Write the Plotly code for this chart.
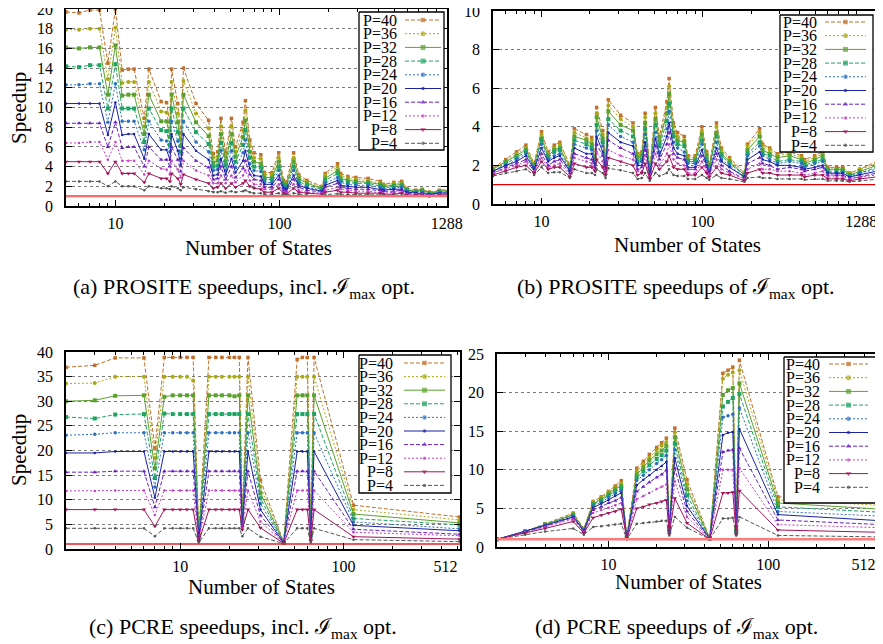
import math
import plotly.graph_objects as go

# ---------------- data ----------------
SERIES = ["P=40", "P=36", "P=32", "P=28", "P=24", "P=20", "P=16", "P=12", "P=8", "P=4"]
BASELINE = 1.0

X_PROSITE = [5, 6, 7, 8, 9, 10, 11, 12, 13, 15, 16, 19, 20.5, 21.5, 22, 24, 25, 26, 31, 37,
             39.5, 42, 44, 47, 51, 54, 60, 62, 66, 70, 77, 81, 90, 99, 106, 110, 122, 131, 147, 182,
             190, 226, 236, 261, 292, 347, 412, 430, 497, 556, 598, 679, 741, 819, 945, 1205, 1288]

# (a) PROSITE speedups incl. Imax opt.
A_P40 = [19.7, 19.6, 19.9, 19.9, 14.5, 20.0, 13.8, 13.9, 13.9, 8.9,
         13.9, 10.6, 10.5, 8.5, 13.9, 10.4, 7.4, 14.0, 10.4, 8.7,
         5.3, 5.5, 8.9, 5.4, 8.9, 6.0, 8.5, 10.7, 6.7, 5.4,
         5.2, 3.4, 3.4, 5.4, 2.6, 2.4, 5.4, 3.2, 2.6, 2.0,
         3.3, 4.3, 3.3, 3.0, 2.9, 2.8, 2.5, 2.2, 2.4, 2.5,
         1.8, 1.6, 1.7, 1.4, 1.6, 1.7, 1.8]
A_P36 = [17.9, 17.9, 18.0, 18.0, 12.9, 18.1, 12.5, 12.6, 12.6, 8.1,
         12.6, 9.6, 9.5, 7.7, 12.6, 9.4, 6.8, 12.7, 9.4, 7.9,
         4.9, 5.0, 8.1, 5.0, 8.1, 5.5, 7.7, 9.7, 6.1, 4.9,
         4.8, 3.2, 3.2, 4.9, 2.4, 2.3, 4.9, 3.0, 2.4, 1.9,
         3.1, 4.0, 3.1, 2.8, 2.7, 2.6, 2.3, 2.1, 2.3, 2.3,
         1.7, 1.5, 1.6, 1.4, 1.5, 1.6, 1.7]
A_P32 = [16.1, 16.0, 16.1, 16.1, 11.3, 16.3, 11.2, 11.3, 11.3, 7.3,
         11.3, 8.6, 8.6, 7.0, 11.3, 8.5, 6.1, 11.3, 8.5, 7.1,
         4.4, 4.6, 7.3, 4.5, 7.3, 5.0, 7.0, 8.7, 5.5, 4.5,
         4.3, 2.9, 2.9, 4.5, 2.3, 2.1, 4.5, 2.8, 2.3, 1.8,
         2.8, 3.6, 2.8, 2.6, 2.5, 2.4, 2.2, 2.0, 2.1, 2.2,
         1.6, 1.5, 1.6, 1.3, 1.5, 1.6, 1.7]
A_P28 = [14.2, 14.1, 14.3, 14.3, 9.9, 14.4, 9.9, 9.9, 9.9, 6.5,
         9.9, 7.7, 7.6, 6.2, 9.9, 7.5, 5.5, 9.9, 7.5, 6.3,
         4.0, 4.1, 6.4, 4.1, 6.4, 4.5, 6.2, 7.7, 4.9, 4.0,
         3.9, 2.7, 2.7, 4.0, 2.1, 2.0, 4.0, 2.5, 2.1, 1.7,
         2.6, 3.3, 2.6, 2.4, 2.3, 2.3, 2.0, 1.8, 2.0, 2.0,
         1.6, 1.4, 1.5, 1.3, 1.4, 1.5, 1.6]
A_P24 = [12.3, 12.3, 12.4, 12.4, 8.5, 12.4, 8.6, 8.6, 8.6, 5.7,
         8.6, 6.7, 6.6, 5.5, 8.6, 6.6, 4.8, 8.6, 6.5, 5.5,
         3.6, 3.7, 5.6, 3.6, 5.6, 3.9, 5.4, 6.7, 4.3, 3.6,
         3.5, 2.4, 2.4, 3.6, 1.9, 1.8, 3.6, 2.3, 1.9, 1.6,
         2.3, 2.9, 2.4, 2.2, 2.1, 2.1, 1.9, 1.7, 1.8, 1.9,
         1.5, 1.4, 1.4, 1.2, 1.4, 1.4, 1.5]
A_P20 = [10.4, 10.4, 10.4, 10.4, 7.2, 10.5, 7.2, 7.3, 7.3, 4.8,
         7.3, 5.7, 5.7, 4.7, 7.3, 5.6, 4.2, 7.3, 5.6, 4.7,
         3.1, 3.2, 4.8, 3.2, 4.8, 3.4, 4.6, 5.6, 3.8, 3.1,
         3.0, 2.2, 2.2, 3.1, 1.8, 1.7, 3.1, 2.1, 1.8, 1.5,
         2.1, 2.6, 2.1, 2.0, 1.9, 1.9, 1.7, 1.6, 1.7, 1.7,
         1.4, 1.3, 1.3, 1.2, 1.3, 1.3, 1.4]
A_P16 = [8.4, 8.4, 8.4, 8.4, 6.0, 8.5, 5.9, 6.0, 6.0, 4.0,
         6.0, 4.7, 4.7, 4.0, 6.0, 4.7, 3.5, 5.9, 4.6, 3.9,
         2.7, 2.8, 4.0, 2.7, 4.0, 2.9, 3.8, 4.6, 3.2, 2.7,
         2.6, 1.9, 1.9, 2.7, 1.6, 1.5, 2.7, 1.9, 1.6, 1.4,
         1.9, 2.3, 1.9, 1.8, 1.7, 1.7, 1.6, 1.5, 1.5, 1.6,
         1.3, 1.2, 1.3, 1.1, 1.2, 1.3, 1.3]
A_P12 = [6.4, 6.4, 6.5, 6.5, 4.7, 6.5, 4.6, 4.6, 4.6, 3.2,
         4.6, 3.8, 3.7, 3.2, 4.6, 3.7, 2.9, 4.6, 3.6, 3.1,
         2.3, 2.3, 3.1, 2.3, 3.1, 2.4, 3.1, 3.6, 2.6, 2.2,
         2.2, 1.7, 1.7, 2.2, 1.4, 1.4, 2.2, 1.6, 1.4, 1.3,
         1.6, 1.9, 1.7, 1.6, 1.5, 1.5, 1.4, 1.3, 1.4, 1.4,
         1.2, 1.2, 1.2, 1.1, 1.2, 1.2, 1.3]
A_P8 = [4.5, 4.5, 4.5, 4.5, 3.3, 4.5, 3.3, 3.3, 3.3, 2.4,
        3.3, 2.8, 2.8, 2.5, 3.3, 2.8, 2.2, 3.2, 2.7, 2.3,
        1.8, 1.9, 2.3, 1.8, 2.3, 1.9, 2.3, 2.6, 2.0, 1.8,
        1.7, 1.4, 1.4, 1.8, 1.3, 1.2, 1.8, 1.4, 1.3, 1.2,
        1.4, 1.6, 1.4, 1.4, 1.3, 1.3, 1.3, 1.2, 1.2, 1.3,
        1.1, 1.1, 1.1, 1.0, 1.1, 1.1, 1.2]
A_P4 = [2.5, 2.5, 2.5, 2.5, 2.0, 2.5, 2.0, 2.0, 2.0, 1.6,
        2.0, 1.8, 1.8, 1.7, 2.0, 1.8, 1.6, 1.9, 1.7, 1.5,
        1.4, 1.4, 1.5, 1.35, 1.5, 1.4, 1.5, 1.6, 1.4, 1.3,
        1.3, 1.2, 1.2, 1.3, 1.1, 1.1, 1.3, 1.2, 1.1, 1.05,
        1.15, 1.25, 1.2, 1.15, 1.15, 1.15, 1.1, 1.1, 1.1, 1.1,
        1.05, 1.05, 1.05, 1.0, 1.05, 1.05, 1.1]

# (b) PROSITE speedups of Imax opt.
B_P40 = [1.85, 2.3, 2.7, 3.05, 2.1, 3.75, 2.7, 3.05, 3.2, 2.0,
         3.9, 3.6, 3.45, 2.5, 5.0, 3.8, 2.2, 5.4, 4.6, 4.2,
         2.6, 2.7, 4.7, 1.8, 5.0, 3.5, 5.3, 6.5, 4.2, 3.7,
         3.5, 2.5, 2.5, 4.0, 2.7, 2.0, 4.2, 2.9, 2.4, 1.6,
         3.1, 3.9, 3.1, 2.9, 2.6, 2.7, 2.5, 2.3, 2.5, 2.7,
         1.9, 1.9, 1.9, 1.6, 1.8, 2.2, 2.4]
B_P36 = [1.8, 2.2, 2.6, 2.9, 2.1, 3.6, 2.6, 2.9, 3.1, 2.0,
         3.7, 3.4, 3.3, 2.4, 4.7, 3.6, 2.1, 5.1, 4.4, 4.0,
         2.5, 2.6, 4.5, 1.8, 4.7, 3.3, 5.0, 6.1, 4.0, 3.5,
         3.3, 2.4, 2.4, 3.8, 2.6, 1.9, 4.0, 2.8, 2.3, 1.6,
         3.0, 3.7, 3.0, 2.8, 2.5, 2.6, 2.4, 2.2, 2.4, 2.6,
         1.8, 1.8, 1.8, 1.6, 1.8, 2.1, 2.3]
B_P32 = [1.8, 2.2, 2.5, 2.8, 2.0, 3.4, 2.5, 2.8, 2.9, 1.9,
         3.5, 3.3, 3.1, 2.3, 4.5, 3.4, 2.1, 4.8, 4.1, 3.8,
         2.4, 2.5, 4.2, 1.7, 4.4, 3.2, 4.7, 5.7, 3.7, 3.3,
         3.2, 2.3, 2.3, 3.6, 2.5, 1.9, 3.7, 2.6, 2.2, 1.5,
         2.8, 3.5, 2.8, 2.6, 2.4, 2.5, 2.3, 2.1, 2.3, 2.5,
         1.8, 1.8, 1.8, 1.5, 1.7, 2.0, 2.2]
B_P28 = [1.7, 2.1, 2.4, 2.7, 1.9, 3.3, 2.4, 2.7, 2.8, 1.8,
         3.3, 3.1, 2.9, 2.2, 4.1, 3.2, 2.0, 4.4, 3.8, 3.5,
         2.2, 2.3, 3.9, 1.6, 4.1, 3.0, 4.3, 5.2, 3.5, 3.1,
         3.0, 2.2, 2.2, 3.3, 2.3, 1.8, 3.5, 2.5, 2.1, 1.5,
         2.6, 3.2, 2.6, 2.5, 2.2, 2.3, 2.2, 2.0, 2.2, 2.3,
         1.7, 1.7, 1.7, 1.5, 1.6, 1.9, 2.1]
B_P24 = [1.7, 2.0, 2.3, 2.6, 1.9, 3.1, 2.3, 2.5, 2.6, 1.8,
         3.1, 2.9, 2.8, 2.1, 3.8, 3.0, 1.9, 4.1, 3.5, 3.2,
         2.1, 2.2, 3.6, 1.6, 3.7, 2.7, 3.9, 4.8, 3.2, 2.9,
         2.7, 2.1, 2.1, 3.1, 2.2, 1.7, 3.2, 2.3, 2.0, 1.4,
         2.5, 3.0, 2.5, 2.3, 2.1, 2.2, 2.1, 1.9, 2.1, 2.2,
         1.6, 1.6, 1.6, 1.4, 1.6, 1.8, 2.0]
B_P20 = [1.7, 2.0, 2.2, 2.5, 1.8, 2.9, 2.2, 2.4, 2.5, 1.7,
         2.9, 2.6, 2.6, 2.0, 3.5, 2.7, 1.8, 3.7, 3.2, 3.0,
         2.0, 2.0, 3.2, 1.5, 3.4, 2.5, 3.5, 4.2, 2.9, 2.6,
         2.5, 1.9, 1.9, 2.8, 2.0, 1.6, 2.9, 2.2, 1.9, 1.4,
         2.3, 2.7, 2.3, 2.2, 2.0, 2.0, 1.9, 1.8, 1.9, 2.0,
         1.6, 1.6, 1.6, 1.4, 1.5, 1.7, 1.9]
B_P16 = [1.6, 1.9, 2.1, 2.3, 1.7, 2.6, 2.0, 2.2, 2.3, 1.6,
         2.6, 2.4, 2.3, 1.9, 3.1, 2.5, 1.7, 3.3, 2.9, 2.6,
         1.8, 1.9, 2.8, 1.4, 3.0, 2.3, 3.1, 3.7, 2.6, 2.4,
         2.3, 1.8, 1.8, 2.5, 1.9, 1.6, 2.6, 2.0, 1.7, 1.3,
         2.1, 2.4, 2.1, 2.0, 1.8, 1.9, 1.8, 1.7, 1.8, 1.9,
         1.5, 1.5, 1.5, 1.3, 1.4, 1.6, 1.7]
B_P12 = [1.6, 1.8, 2.0, 2.2, 1.7, 2.4, 1.9, 2.0, 2.1, 1.5,
         2.4, 2.2, 2.1, 1.8, 2.7, 2.2, 1.6, 2.8, 2.5, 2.3,
         1.7, 1.7, 2.5, 1.4, 2.6, 2.0, 2.6, 3.1, 2.3, 2.1,
         2.0, 1.6, 1.6, 2.2, 1.7, 1.5, 2.3, 1.8, 1.6, 1.3,
         1.8, 2.1, 1.8, 1.8, 1.7, 1.7, 1.6, 1.5, 1.6, 1.7,
         1.4, 1.4, 1.4, 1.3, 1.4, 1.5, 1.6]
B_P8 = [1.5, 1.7, 1.9, 2.0, 1.6, 2.2, 1.8, 1.9, 1.9, 1.4,
        2.1, 1.9, 1.9, 1.7, 2.3, 1.9, 1.5, 2.4, 2.2, 2.0,
        1.5, 1.6, 2.1, 1.3, 2.1, 1.8, 2.2, 2.5, 1.9, 1.8,
        1.8, 1.5, 1.5, 1.9, 1.6, 1.4, 1.9, 1.6, 1.5, 1.2,
        1.6, 1.8, 1.6, 1.6, 1.5, 1.5, 1.5, 1.4, 1.5, 1.5,
        1.3, 1.3, 1.3, 1.2, 1.3, 1.4, 1.5]
B_P4 = [1.45, 1.6, 1.7, 1.8, 1.5, 1.9, 1.6, 1.65, 1.65, 1.35,
        1.8, 1.6, 1.6, 1.5, 1.8, 1.6, 1.35, 1.85, 1.75, 1.6,
        1.3, 1.35, 1.6, 1.2, 1.6, 1.45, 1.6, 1.8, 1.5, 1.45,
        1.45, 1.3, 1.3, 1.5, 1.35, 1.25, 1.5, 1.35, 1.3, 1.15,
        1.35, 1.4, 1.35, 1.35, 1.3, 1.3, 1.3, 1.25, 1.3, 1.3,
        1.2, 1.2, 1.2, 1.15, 1.2, 1.25, 1.3]

X_PCRE = [2, 3, 4, 6, 7, 8, 9, 10, 11, 12, 13, 15, 16.5, 18, 20, 21.5, 23, 24, 26, 31,
          43, 52, 56, 60, 63, 66, 115, 512]

# (c) PCRE speedups incl. Imax opt.
C_P40 = [36.9, 37.3, 38.8, 38.8, 20.5, 38.9, 38.9, 38.9, 38.9, 38.9, 3.1, 38.9, 38.9, 38.9,
         38.9, 38.9, 38.9, 6.5, 38.9, 14.0, 1.4, 38.5, 38.9, 38.9, 3.5, 38.9, 8.9, 6.5]
C_P36 = [33.6, 33.7, 35.0, 35.0, 18.5, 35.0, 35.0, 35.0, 35.0, 34.2, 2.9, 35.0, 35.0, 35.0,
         35.0, 35.0, 35.0, 6.2, 35.0, 12.7, 1.4, 35.0, 35.0, 35.0, 3.3, 35.0, 8.0, 5.9]
C_P32 = [30.0, 30.2, 31.1, 31.2, 16.4, 30.9, 31.2, 31.2, 31.2, 31.2, 2.7, 31.2, 31.2, 31.2,
         31.2, 31.0, 31.2, 5.9, 31.2, 11.4, 1.35, 31.2, 31.2, 31.2, 3.1, 31.2, 7.1, 5.3]
C_P28 = [26.8, 26.5, 27.3, 27.4, 14.4, 27.5, 27.4, 27.4, 27.4, 27.4, 2.5, 27.4, 27.4, 27.4,
         27.4, 27.4, 27.4, 5.6, 27.4, 10.3, 1.3, 27.4, 27.4, 27.4, 2.9, 27.4, 6.2, 4.9]
C_P24 = [23.1, 23.3, 23.6, 23.6, 12.6, 23.6, 23.6, 23.6, 23.6, 23.6, 2.3, 23.6, 23.6, 23.6,
         23.6, 23.6, 23.6, 5.3, 23.6, 9.2, 1.3, 23.6, 23.6, 23.6, 2.6, 23.6, 5.5, 4.1]
C_P20 = [19.5, 19.5, 19.8, 19.8, 10.4, 19.8, 19.8, 19.8, 19.8, 19.8, 2.1, 19.8, 19.8, 19.8,
         19.8, 19.8, 19.8, 5.0, 19.8, 8.0, 1.25, 19.8, 19.8, 19.8, 2.4, 19.8, 4.8, 3.7]
C_P16 = [15.6, 15.6, 15.8, 15.8, 8.5, 15.8, 15.8, 15.8, 15.8, 15.8, 1.9, 15.8, 15.8, 15.8,
         15.8, 15.8, 15.8, 4.7, 15.8, 6.8, 1.2, 15.8, 15.8, 15.8, 2.1, 15.8, 4.0, 3.0]
C_P12 = [11.8, 11.8, 11.9, 11.9, 6.9, 11.9, 11.9, 11.9, 11.9, 11.9, 1.7, 11.9, 11.9, 11.9,
         11.9, 11.9, 11.9, 4.3, 11.9, 5.6, 1.2, 11.9, 11.9, 11.9, 1.9, 11.9, 3.4, 2.7]
C_P8 = [8.0, 8.0, 8.0, 8.0, 4.6, 8.0, 8.0, 8.0, 8.0, 8.0, 1.5, 8.0, 8.0, 8.0,
        8.0, 8.0, 8.0, 3.9, 8.0, 4.3, 1.15, 8.0, 8.0, 8.0, 1.6, 8.0, 2.5, 2.0]
C_P4 = [4.2, 4.2, 4.2, 4.2, 2.6, 4.2, 4.2, 4.2, 4.2, 4.2, 1.3, 4.2, 4.2, 4.2,
        4.2, 4.2, 4.2, 2.6, 4.2, 2.5, 1.1, 4.2, 4.2, 4.2, 1.3, 4.2, 1.9, 1.5]

# (d) PCRE speedups of Imax opt.
D_P40 = [1.0, 2.0, 3.0, 4.4, 2.4, 5.9, 6.5, 7.2, 7.9, 8.6, 1.3, 10.2, 11.1, 12.0,
         12.9, 13.5, 14.1, 2.5, 15.4, 8.7, 1.1, 22.5, 22.9, 23.3, 2.5, 24.2, 6.5, 5.9]
D_P36 = [1.0, 2.0, 2.9, 4.3, 2.3, 5.8, 6.4, 7.1, 7.7, 8.2, 1.3, 9.8, 10.7, 11.6,
         12.5, 13.1, 13.6, 2.4, 14.8, 8.1, 1.1, 21.8, 22.3, 22.6, 2.3, 22.9, 6.1, 5.4]
D_P32 = [1.0, 2.0, 2.9, 4.2, 2.3, 5.6, 6.2, 6.9, 7.5, 7.9, 1.25, 9.4, 10.3, 11.2,
         12.0, 12.5, 13.1, 2.3, 14.2, 7.5, 1.1, 19.7, 20.3, 20.6, 2.2, 21.2, 5.7, 4.9]
D_P28 = [1.0, 2.0, 2.9, 4.1, 2.2, 5.5, 6.0, 6.7, 7.2, 7.6, 1.2, 9.0, 9.8, 10.6,
         11.4, 11.9, 12.5, 2.2, 13.4, 6.7, 1.05, 18.2, 18.8, 19.3, 2.1, 19.8, 5.2, 4.5]
D_P24 = [1.0, 2.0, 2.8, 4.0, 2.2, 5.3, 5.8, 6.4, 6.9, 7.3, 1.2, 8.6, 9.3, 10.0,
         10.8, 11.3, 11.9, 2.1, 12.6, 6.0, 1.05, 16.8, 17.0, 17.2, 2.0, 18.0, 4.6, 4.0]
D_P20 = [1.0, 2.0, 2.8, 3.9, 2.1, 5.1, 5.6, 6.1, 6.6, 7.0, 1.15, 8.0, 8.7, 9.3,
         10.0, 10.5, 11.0, 2.0, 11.5, 5.3, 1.05, 14.5, 14.8, 14.9, 1.9, 15.3, 4.2, 3.4]
D_P16 = [1.0, 1.9, 2.7, 3.8, 2.0, 4.8, 5.2, 5.7, 6.0, 6.4, 1.1, 7.2, 7.8, 8.4,
         9.0, 9.4, 9.9, 1.9, 10.2, 4.6, 1.0, 12.3, 12.5, 12.6, 1.8, 12.8, 3.5, 2.9]
D_P12 = [1.0, 1.9, 2.6, 3.6, 1.9, 4.4, 4.8, 5.1, 5.4, 5.7, 1.1, 6.2, 6.6, 7.0,
         7.5, 7.8, 8.1, 1.8, 8.5, 3.9, 1.0, 10.0, 10.0, 10.0, 1.7, 10.2, 2.9, 2.5]
D_P8 = [1.0, 1.8, 2.4, 3.3, 1.8, 3.8, 4.1, 4.4, 4.6, 4.9, 1.05, 5.0, 5.2, 5.5,
        5.7, 5.9, 6.1, 1.7, 6.3, 3.1, 1.0, 7.0, 7.0, 7.1, 1.6, 7.3, 2.2, 1.9]
D_P4 = [1.0, 1.6, 2.0, 2.4, 1.6, 2.6, 2.7, 2.8, 2.9, 3.0, 1.0, 3.0, 3.1, 3.2,
        3.3, 3.4, 3.4, 1.5, 3.9, 2.5, 1.0, 3.7, 3.7, 3.8, 1.5, 3.9, 1.5, 1.3]

CAPTIONS = ["(a) PROSITE speedups, incl. \u2110<sub>max</sub> opt.",
            "(b) PROSITE speedups of \u2110<sub>max</sub> opt.",
            "(c) PCRE speedups, incl. \u2110<sub>max</sub> opt.",
            "(d) PCRE speedups of \u2110<sub>max</sub> opt."]
X_TITLE = "Number of States"
Y_TITLE = "Speedup"

# ---------------- styles ----------------
PAGE_W, PAGE_H = 883, 644
OFF = 8                      # page body margin
W, H = PAGE_W - OFF, PAGE_H - OFF
FONT = "Liberation Serif"
COLORS = ["#c0702a", "#aaa814", "#5ca12f", "#1fa463", "#2c70c0",
          "#1a22a8", "#6a22bd", "#c23ec6", "#a3135a", "#555555"]
DASHES = ["4px,2px", "2px,2px", "solid", "4px,2px", "2px,2px",
          "solid", "4px,2px", "2px,2px", "solid", "4px,2px"]
SYMBOLS = ["square", "circle", "square", "square", "circle",
           "circle", "triangle-up", "circle", "triangle-down", "circle"]
MSIZES = [3.5, 4, 4, 4, 3.5, 2.5, 4, 2.5, 4, 2.5]


def px_x(p):
    return (p - OFF) / W


def px_y(p):
    return 1 - (p - OFF) / H


panels = [
    dict(x=X_PROSITE, ys=[A_P40, A_P36, A_P32, A_P28, A_P24, A_P20, A_P16, A_P12, A_P8, A_P4],
         dom_x=(66, 447), dom_y=(9, 206), xr=(5, 1050), yr=(0, 20), dy=2,
         ticks=[(10, "10"), (100, "100"), (1045, "1288")],
         base_color="#ff6b6b", base_w=2.2,
         legend=dict(box=(359, 444, 12, 150), tr=399, s=(405, 441), y0=20, st=13.7)),
    dict(x=X_PROSITE, ys=[B_P40, B_P36, B_P32, B_P28, B_P24, B_P20, B_P16, B_P12, B_P8, B_P4],
         dom_x=(493, 882), dom_y=(11, 204), xr=(5, 1300), yr=(0, 10), dy=2,
         ticks=[(10, "10"), (100, "100"), (1288, "1288" + "\u00a0" * 10)],
         base_color="#e00000", base_w=1.2,
         legend=dict(box=(780, 873, 15, 152), tr=819, s=(825, 866), y0=22, st=13.7)),
    dict(x=X_PCRE, ys=[C_P40, C_P36, C_P32, C_P28, C_P24, C_P20, C_P16, C_P12, C_P8, C_P4],
         dom_x=(66, 460), dom_y=(352, 549), xr=(2, 516), yr=(0, 40), dy=5,
         ticks=[(10, "10"), (100, "100"), (512, "512" + "\u00a0" * 7)],
         base_color="#ee1c1c", base_w=1.5,
         legend=dict(box=(359, 451, 355, 493), tr=395, s=(404, 445), y0=363, st=13.6)),
    dict(x=X_PCRE, ys=[D_P40, D_P36, D_P32, D_P28, D_P24, D_P20, D_P16, D_P12, D_P8, D_P4],
         dom_x=(497, 882), dom_y=(354, 547), xr=(2, 516), yr=(0, 25), dy=5,
         ticks=[(10, "10"), (100, "100"), (512, "512" + "\u00a0" * 9)],
         base_color="#ff7a7a", base_w=2.5,
         legend=dict(box=(784, 881, 357, 503), tr=822, s=(829, 868), y0=364, st=13.7)),
]

fig = go.Figure()
layout = dict(template="none", width=W, height=H, autosize=False,
              margin=dict(l=0, r=0, t=0, b=0, pad=0, autoexpand=False),
              paper_bgcolor="white", plot_bgcolor="rgba(0,0,0,0)",
              showlegend=False, font=dict(family=FONT, size=16, color="black"))

annotations = []
for i, pn in enumerate(panels):
    k = i + 1
    xa = "x" if k == 1 else f"x{k}"
    ya = "y" if k == 1 else f"y{k}"
    for j, name in enumerate(SERIES):
        fig.add_trace(go.Scatter(
            x=pn["x"], y=pn["ys"][j], name=name, xaxis=xa, yaxis=ya,
            mode="lines+markers",
            line=dict(color=COLORS[j], width=1, dash=DASHES[j]),
            marker=dict(symbol=SYMBOLS[j], size=MSIZES[j], color=COLORS[j],
                        line=dict(width=0))))
    fig.add_trace(go.Scatter(x=[pn["xr"][0], pn["xr"][1]], y=[BASELINE, BASELINE],
                             xaxis=xa, yaxis=ya, mode="lines",
                             line=dict(color=pn["base_color"], width=pn["base_w"])))
    lo, hi = pn["xr"]
    minor_vals = [m * 10 ** e for e in range(0, 4) for m in range(2, 10)
                  if lo <= m * 10 ** e <= hi]
    xkey = "xaxis" if k == 1 else f"xaxis{k}"
    ykey = "yaxis" if k == 1 else f"yaxis{k}"
    layout[xkey] = dict(
        type="log", domain=[px_x(pn["dom_x"][0]), px_x(pn["dom_x"][1])],
        range=[math.log10(lo), math.log10(hi)], anchor=ya, automargin=False,
        tickmode="array", tickvals=[t[0] for t in pn["ticks"]],
        ticktext=[t[1] for t in pn["ticks"]], ticklabeloverflow="allow",
        ticks="inside", ticklen=6, tickwidth=1, tickcolor="black",
        minor=dict(tickmode="array", tickvals=minor_vals, ticks="inside",
                   ticklen=3, tickcolor="black", tickwidth=1, showgrid=False),
        showline=True, linecolor="black", linewidth=1.5, mirror="allticks",
        showgrid=False, zeroline=False,
        tickfont=dict(family=FONT, size=16, color="black"), ticklabelstandoff=2)
    layout[ykey] = dict(
        domain=[px_y(pn["dom_y"][1]), px_y(pn["dom_y"][0])],
        range=list(pn["yr"]), anchor=xa, automargin=False,
        tickmode="linear", tick0=0, dtick=pn["dy"], ticklabeloverflow="allow",
        ticks="inside", ticklen=6, tickwidth=1, tickcolor="black",
        showline=True, linecolor="black", linewidth=1.5, mirror="allticks",
        showgrid=True, gridcolor="#7a7a7a", griddash="dot", gridwidth=1,
        zeroline=False,
        tickfont=dict(family=FONT, size=16, color="black"), ticklabelstandoff=8)

# overlay axes in reference-pixel units for the keys
layout["xaxis5"] = dict(domain=[0, 1], range=[OFF, PAGE_W], anchor="y5", visible=False,
                        showgrid=False, zeroline=False, automargin=False)
layout["yaxis5"] = dict(domain=[0, 1], range=[PAGE_H, OFF], anchor="x5", visible=False,
                        showgrid=False, zeroline=False, automargin=False)

for pn in panels:
    lg = pn["legend"]
    l, r, t, b = lg["box"]
    fig.add_trace(go.Scatter(x=[l, r, r, l, l], y=[t, t, b, b, t], xaxis="x5", yaxis="y5",
                             mode="lines", fill="toself", fillcolor="white",
                             line=dict(color="black", width=1.3), hoverinfo="skip"))
    s0, s1 = lg["s"]
    for j, name in enumerate(SERIES):
        yy = lg["y0"] + j * lg["st"]
        fig.add_trace(go.Scatter(
            x=[s0, (s0 + s1) / 2, s1], y=[yy, yy, yy], xaxis="x5", yaxis="y5",
            mode="lines+markers",
            line=dict(color=COLORS[j], width=1, dash=DASHES[j]),
            marker=dict(symbol=SYMBOLS[j], size=[0, MSIZES[j] + 1, 0], color=COLORS[j],
                        line=dict(width=0)), hoverinfo="skip"))
        annotations.append(dict(x=lg["tr"], y=yy, xref="x5", yref="y5", text=name,
                                showarrow=False, xanchor="right", yanchor="middle",
                                font=dict(family=FONT, size=16, color="black")))

# axis titles and captions
for cx, cy in [(19, 108), (19, 450)]:
    annotations.append(dict(x=px_x(cx), y=px_y(cy), xref="paper", yref="paper",
                            text=Y_TITLE, textangle=-90, showarrow=False,
                            xanchor="center", yanchor="middle",
                            font=dict(family=FONT, size=21, color="black")))
for cx, cy in [(258, 248), (687, 245), (262, 587), (688, 582)]:
    annotations.append(dict(x=px_x(cx), y=px_y(cy), xref="paper", yref="paper",
                            text=X_TITLE, showarrow=False,
                            xanchor="center", yanchor="middle",
                            font=dict(family=FONT, size=21, color="black")))
for cap, (cx, cy) in zip(CAPTIONS, [(244, 288), (676, 288), (243, 628), (676, 628)]):
    annotations.append(dict(x=px_x(cx), y=px_y(cy), xref="paper", yref="paper",
                            text=cap, showarrow=False,
                            xanchor="center", yanchor="middle",
                            font=dict(family=FONT, size=22, color="black")))

layout["annotations"] = annotations
fig.update_layout(**layout)
fig.write_html("out.html")
